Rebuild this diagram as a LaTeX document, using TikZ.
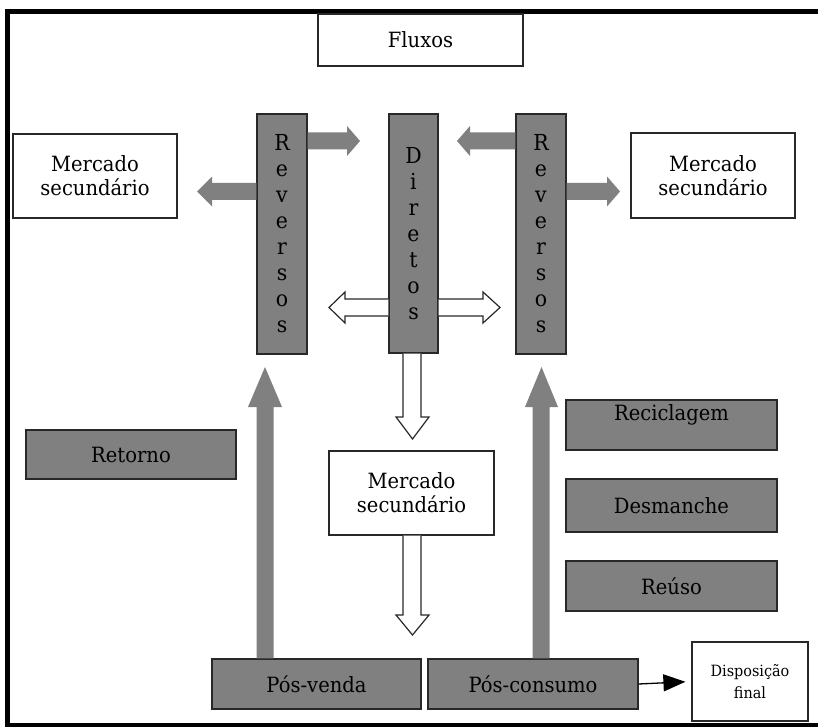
\documentclass[tikz,border=0pt]{standalone}
\usepackage{fontspec}
\setmainfont{DejaVu Serif}[FakeStretch=0.93]
\usetikzlibrary{arrows.meta,calc}
\definecolor{boxgray}{RGB}{128,128,128}
\definecolor{edge}{RGB}{40,40,40}
\tikzset{
  wbox/.style={draw=edge, line width=1.2pt, fill=white, align=center, inner sep=0pt,
    font=\fontsize{21}{24}\selectfont},
  gbox/.style={draw=edge, line width=1.4pt, fill=boxgray, align=center, inner sep=0pt,
    font=\fontsize{21}{24}\selectfont},
  colbox/.style={gbox, minimum width=50pt, minimum height=240pt,
    font=\fontsize{22}{26}\selectfont},
  garrow/.style={fill=boxgray},
  warrow/.style={draw=edge, line width=1.2pt, fill=white, line join=miter},
}
\begin{document}
\begin{tikzpicture}[x=1pt,y=-1pt]
\useasboundingbox (0,0) rectangle (818,727);
\fill[white] (0,0) rectangle (818,727);
% frame
\fill[black] (5,9) rectangle (10,727);
\fill[black] (5,9) rectangle (818,14);
\fill[black] (5,723) rectangle (818,727);

% nodes
\node[wbox, minimum width=205pt, minimum height=52pt] (fluxos) at (420.5,40) {Fluxos};
\node[wbox, minimum width=164pt, minimum height=84pt] (mercL) at (95,176) {Mercado\\secundário};
\node[wbox, minimum width=164pt, minimum height=85pt] (mercR) at (713,175.5) {Mercado\\secundário};
\node[colbox] (revL) at (282,234) {R\\e\\v\\e\\r\\s\\o\\s};
\node[colbox, minimum width=49pt, minimum height=239pt] (dir) at (413.5,233.5) {D\\i\\r\\e\\t\\o\\s};
\node[colbox] (revR) at (541,234) {R\\e\\v\\e\\r\\s\\o\\s};
\node[wbox, minimum width=165pt, minimum height=84pt] (mercM) at (411.5,493) {Mercado\\secundário};
\node[gbox, minimum width=210pt, minimum height=49pt] (retorno) at (131,454.5) {Retorno};
\node[gbox, minimum width=211pt, minimum height=50pt] (recicl) at (671.5,425) {\raisebox{5pt}[0pt][0pt]{Reciclagem}};
\node[gbox, minimum width=211pt, minimum height=53pt] (desm) at (671.5,505.5) {Desmanche};
\node[gbox, minimum width=211pt, minimum height=50pt] (reuso) at (671.5,586) {Reúso};
\node[gbox, minimum width=209pt, minimum height=50pt] (posv) at (316.5,684) {Pós-venda};
\node[gbox, minimum width=210pt, minimum height=50pt] (posc) at (533,684) {Pós-consumo};
\node[wbox, minimum width=116pt, minimum height=79pt, font=\fontsize{15.5}{22}\selectfont] (disp) at (750,681.5) {Disposição\\final};

% gray block arrows
\fill[garrow] (revL.east |- 0,132.5) -- (347,132.5) -- (347,126) -- (360,141) -- (347,156) -- (347,149.5) -- (revL.east |- 0,149.5) -- cycle;
\fill[garrow] (revL.west |- 0,183) -- (212,183) -- (212,176.5) -- (197,191.5) -- (212,206.5) -- (212,200) -- (revL.west |- 0,200) -- cycle;
\fill[garrow] (revR.west |- 0,132.5) -- (470,132.5) -- (470,126) -- (457,141) -- (470,156) -- (470,149.5) -- (revR.west |- 0,149.5) -- cycle;
\fill[garrow] (revR.east |- 0,183) -- (607,183) -- (607,176.5) -- (620,191.5) -- (607,206.5) -- (607,200) -- (revR.east |- 0,200) -- cycle;
\fill[garrow] (256.5,0 |- posv.north) -- (256.5,407) -- (248,407) -- (265,367) -- (282,407) -- (273.5,407) -- (273.5,0 |- posv.north) -- cycle;
\fill[garrow] (532.5,0 |- posc.north) -- (532.5,407) -- (525,407) -- (541.5,367) -- (558,407) -- (549.5,407) -- (549.5,0 |- posc.north) -- cycle;

% white hollow arrows
\draw[warrow] (dir.west |- 0,299) -- (345,299) -- (345,292) -- (329,307.5) -- (345,323) -- (345,316) -- (dir.west |- 0,316);
\draw[warrow] (dir.east |- 0,299) -- (483,299) -- (483,292) -- (500,307.5) -- (483,323) -- (483,316) -- (dir.east |- 0,316);
\draw[warrow] (403,0 |- dir.south) -- (403,417) -- (396,417) -- (412.5,439) -- (429,417) -- (421,417) -- (421,0 |- dir.south);
\draw[warrow] (403,0 |- mercM.south) -- (403,615) -- (396,615) -- (412.5,635) -- (429,615) -- (421,615) -- (421,0 |- mercM.south);

% black arrow
\draw[line width=1.3pt, -{Triangle[width=17pt,length=22pt]}, shorten >=6pt] (posc.east) -- (disp.west);
\end{tikzpicture}
\end{document}
